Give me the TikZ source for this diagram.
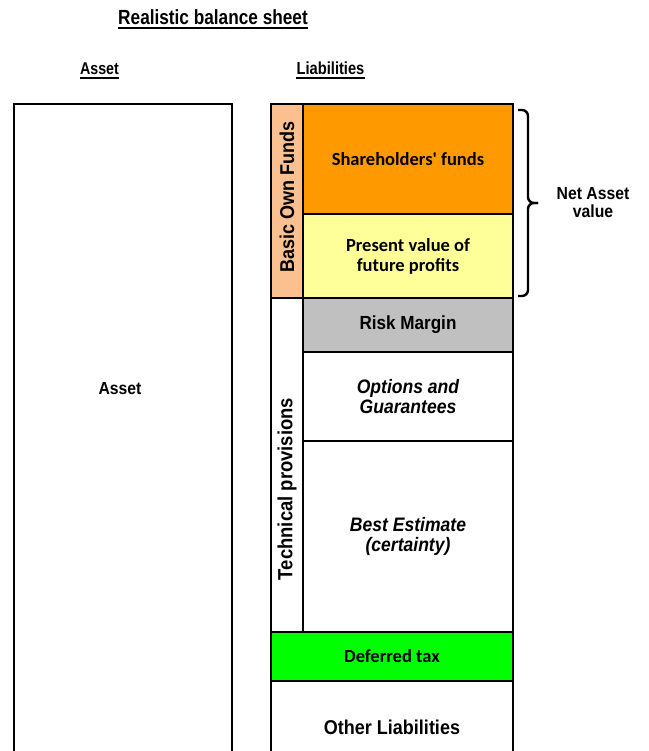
\documentclass[tikz,border=0pt]{standalone}
\usepackage{fontspec}
\setmainfont{Liberation Sans}
\newfontfamily\headfont[FakeStretch=0.84]{Liberation Sans}
\newfontfamily\bodyfont[FakeStretch=0.9]{Liberation Sans}
\newfontfamily\calibri{Carlito}

\definecolor{sharecol}{HTML}{FF9900}
\definecolor{pvfpcol}{HTML}{FFFF99}
\definecolor{riskcol}{HTML}{C0C0C0}
\definecolor{bofcol}{HTML}{FAC090}
\definecolor{taxcol}{HTML}{00FF00}

\begin{document}
\begin{tikzpicture}[x=1pt, y=-1pt,
    cell/.style={draw, line width=1.6pt, inner sep=0pt, outer sep=0pt,
      anchor=north west, align=center, minimum width=210},
    headtxt/.style={font=\headfont\bfseries\fontsize{#1}{#1}\selectfont, inner sep=0pt, anchor=base},
    arialtxt/.style={font=\bodyfont\bfseries\fontsize{#1}{21}\selectfont},
    italtxt/.style={font=\bodyfont\bfseries\itshape\fontsize{#1}{20}\selectfont},
    calibritxt/.style={font=\calibri\bfseries\fontsize{#1}{20}\selectfont},
    uline/.style={line width=2pt},
    bracehalf/.style={line width=2.4pt, rounded corners=6pt}]
        \useasboundingbox (0,0) rectangle (648,751);

        % Titles, underlined
        \node[headtxt=20.5] (title) at (213,25) {Realistic balance sheet};
        \node[headtxt=17] (assethead) at (99.5,75) {Asset};
        \node[headtxt=17.5] (liabhead) at (330.5,75) {Liabilities};
        \draw[uline] ([yshift=-3.5pt]title.base west) -- ([yshift=-3.5pt]title.base east);
        \draw[uline] ([yshift=-3pt]assethead.base west) -- ([yshift=-3pt]assethead.base east);
        \draw[uline] ([yshift=-3pt]liabhead.base west) -- ([yshift=-3pt]liabhead.base east);

        % Asset side, open at the bottom
        \node[cell, draw=none, minimum width=218, minimum height=660] (asset) at (14,104) {};
        \draw[line width=1.6pt] (asset.south west) |- (asset.north east) -- (asset.south east);
        \node[arialtxt=17.5] (assetlbl) at (120,389) {Asset};

        % Side strips
        \node[cell, fill=bofcol, minimum width=32, minimum height=194] (bof) at (271,104) {};
        \node[cell, minimum width=32, minimum height=334] (tp) at (bof.south west) {};
        \node[arialtxt=20, rotate=90] (boflbl) at (287,197) {Basic Own Funds};
        \node[arialtxt=20.5, rotate=90] (tplbl) at (287,489) {Technical provisions};

        % Liabilities column
        \node[cell, fill=sharecol, minimum height=110, calibritxt=18.5] (share) at (303,104) {Shareholders' funds};
        \node[cell, fill=pvfpcol, minimum height=84, calibritxt=18.5] (pvfp) at (share.south west) {Present value of\\future profits};
        \node[cell, fill=riskcol, minimum height=54, arialtxt=19] (risk) at (pvfp.south west) {Risk Margin};
        \node[cell, minimum height=89, italtxt=19.5] (optg) at (risk.south west) {Options and\\Guarantees};
        \node[cell, minimum height=191, italtxt=19.5] (best) at (optg.south west) {Best Estimate\\(certainty)};
        \node[cell, fill=taxcol, minimum width=242, minimum height=49, calibritxt=18.5] (deftax) at (tp.south west) {Deferred tax};

        % Other liabilities, open at the bottom
        \node[cell, draw=none, minimum width=242, minimum height=92, arialtxt=20] (other) at (deftax.south west) {Other Liabilities};
        \draw[line width=1.6pt] (other.south west) |- (other.north east) -- (other.south east);

        % Brace for the net asset value
        \coordinate (bracetop) at ([xshift=5pt,yshift=-6pt]share.north east);
        \coordinate (bracebot) at ([xshift=5pt,yshift=2pt]pvfp.south east);
        \draw[bracehalf] (bracetop) -- ++(10,0) -- ++(0,93) -- ++(10,0);
        \draw[bracehalf] (bracebot) -- ++(10,0) -- ++(0,-93) -- ++(10,0);
        \node[arialtxt=17.5, align=center] (nav) at (593,203) {Net Asset\\[-3pt]value};
      \end{tikzpicture}
\end{document}
